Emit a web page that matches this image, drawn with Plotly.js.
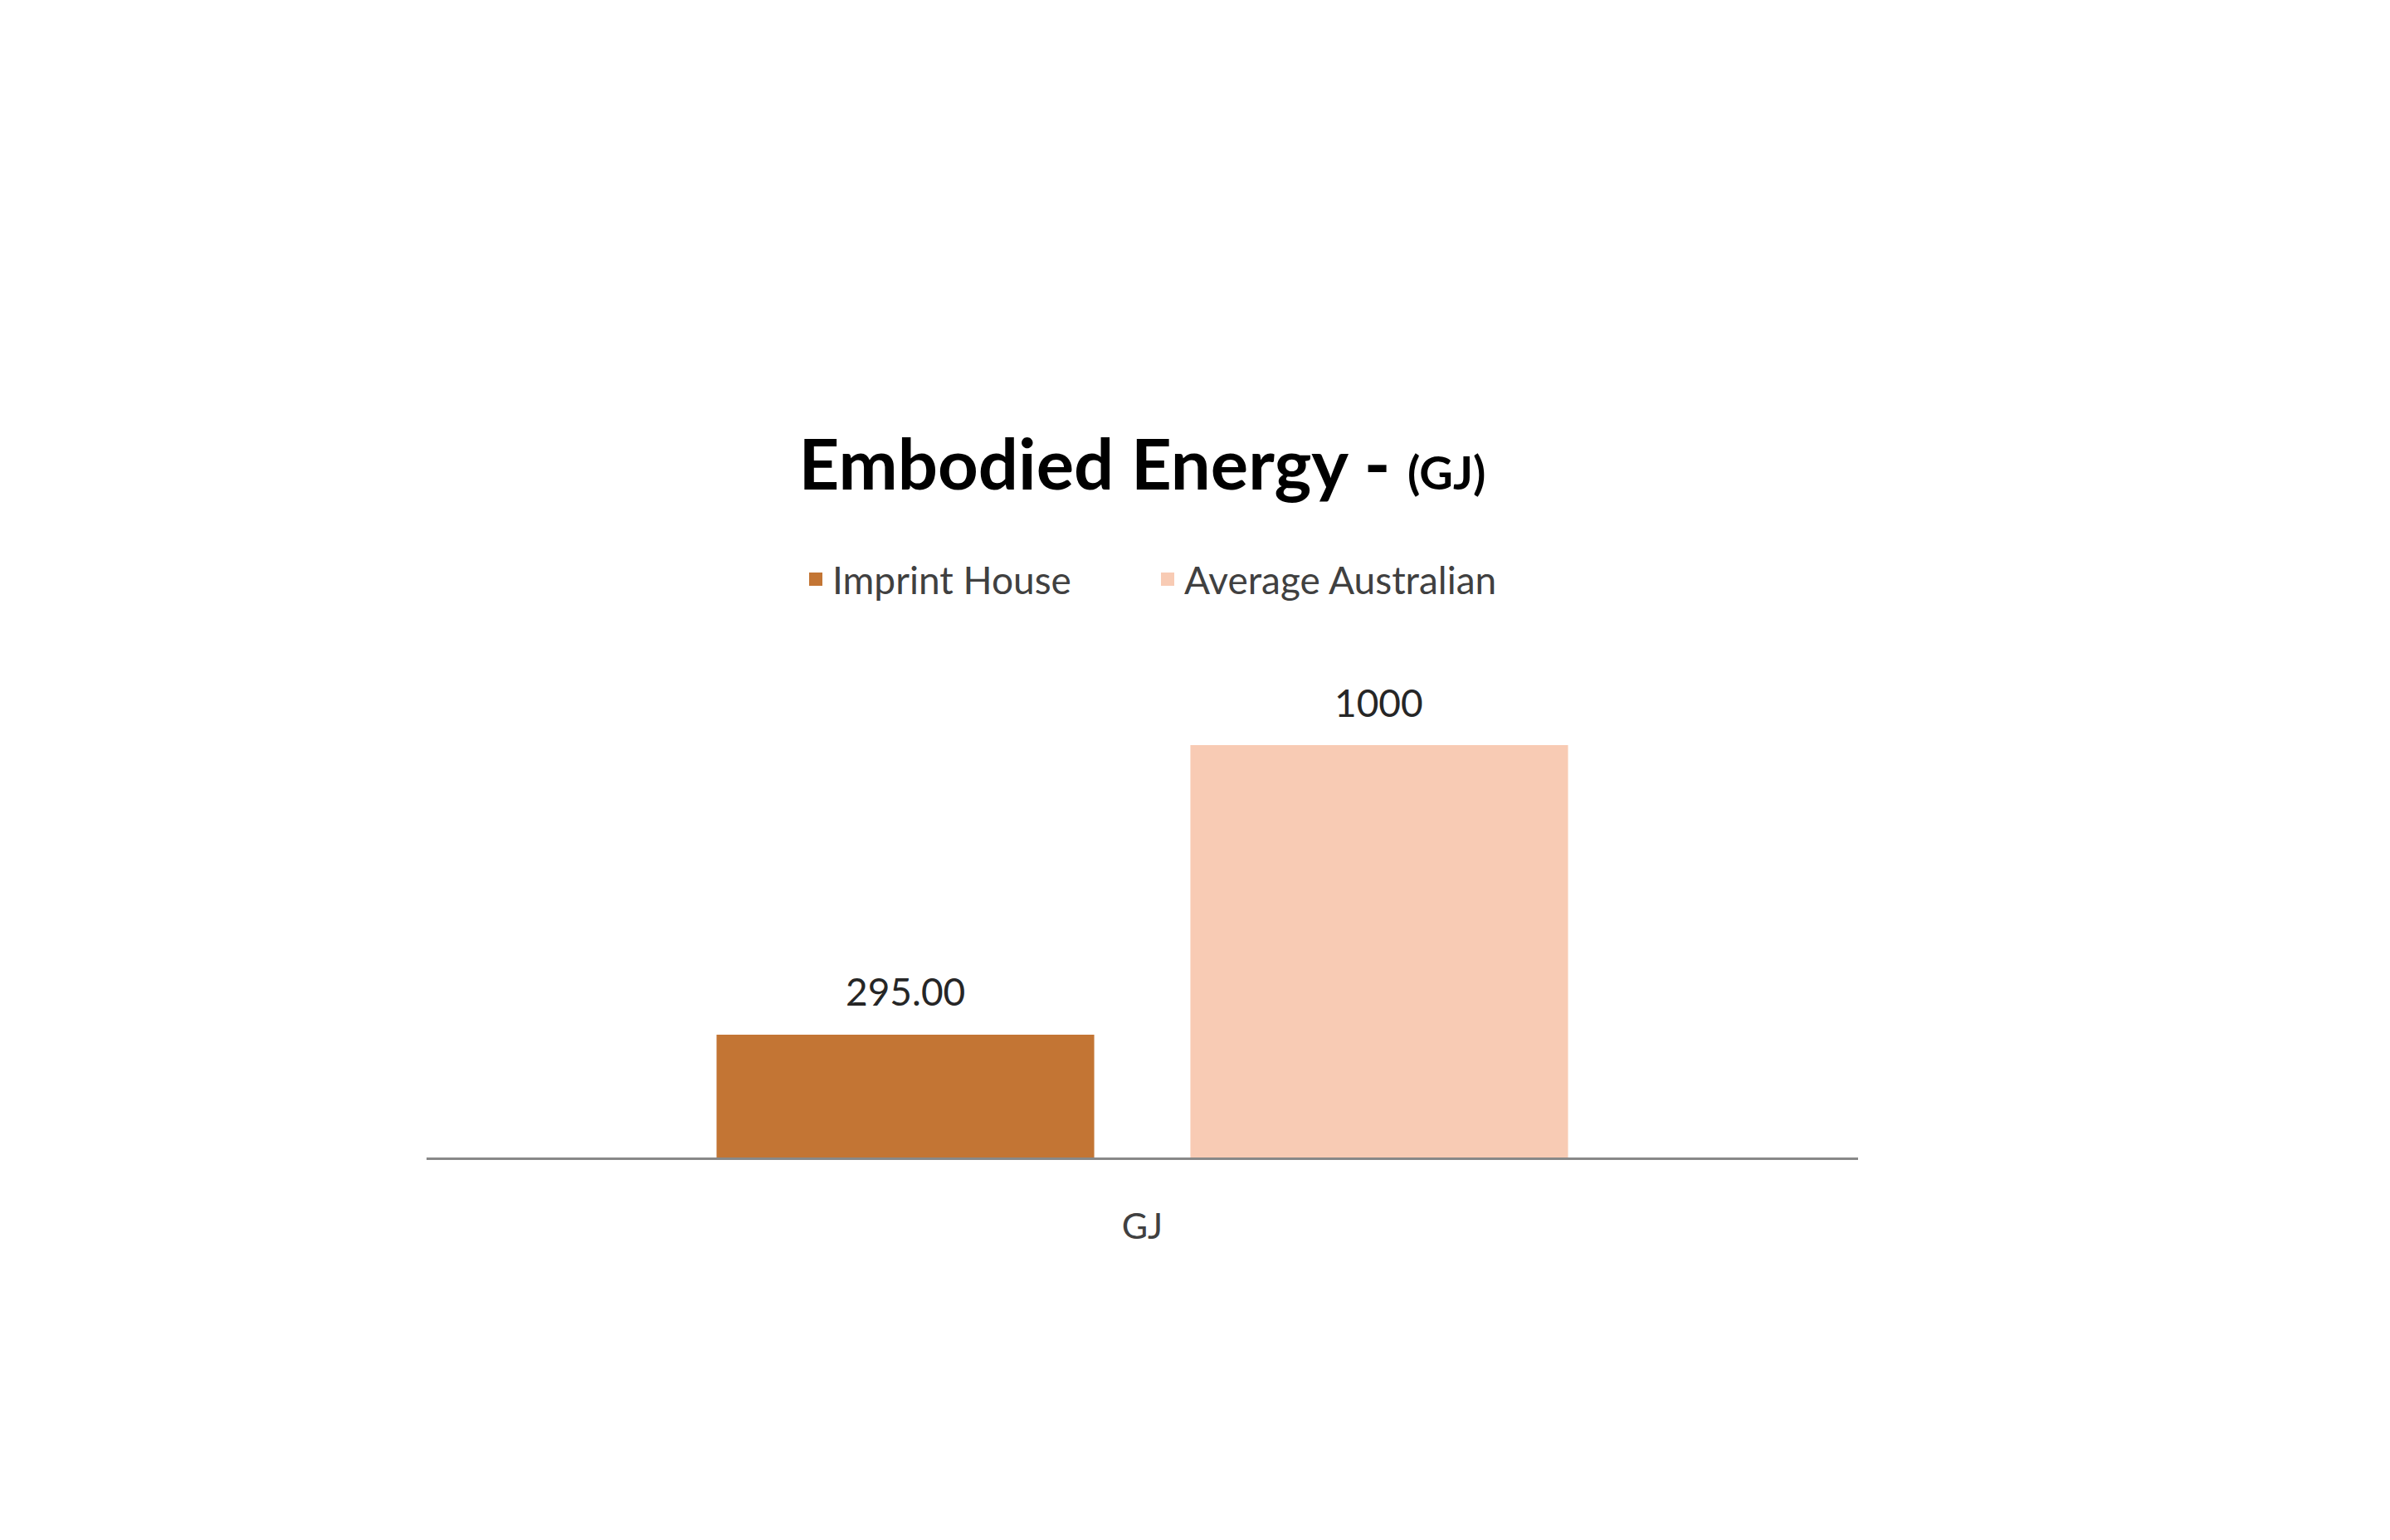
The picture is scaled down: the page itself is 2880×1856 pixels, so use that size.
<!DOCTYPE html>
<html>
<head>
<meta charset="utf-8">
<script src="https://cdn.plot.ly/plotly-3.0.1.min.js"></script>
<style>html,body{margin:0;padding:0;background:#fff;}#chart{width:2880px;height:1856px;}</style>
</head>
<body>
<div id="chart"></div>
<script>
// ---- data ----
const categories = ["GJ"];
const seriesNames = ["Imprint House", "Average Australian"];
const imprintHouse = [295];
const averageAustralian = [1000];
const valueLabels = [["295.00"], ["1000"]];
const seriesColors = ["#C37534", "#F8CBB4"];

const W = 2880, H = 1856;
const margin = {l: 514, r: 641, t: 801, b: 461, pad: 0};
const bargap = 0.338, bargroupgap = 0.21;
const FONT = "Lato, 'Open Sans', sans-serif";

const seriesValues = [imprintHouse, averageAustralian];
const traces = seriesValues.map((vals, i) => ({
  type: "bar",
  name: seriesNames[i],
  x: categories,
  y: vals,
  marker: {color: seriesColors[i], line: {width: 4, color: seriesColors[i]}},
  hoverinfo: "skip"
}));

const plotW = W - margin.l - margin.r;
const plotH = H - margin.t - margin.b;
const n = seriesValues.length;
const slot = (1 - bargap) * plotW / categories.length / n;
const annotations = [];
seriesValues.forEach((vals, i) => {
  vals.forEach((v, j) => {
    annotations.push({
      x: categories[j], y: v, xref: "x", yref: "y",
      text: valueLabels[i][j], showarrow: false,
      xshift: (i - (n - 1) / 2) * slot,
      yanchor: "middle", yshift: 54,
      font: {family: FONT, size: 46, color: "#262626"}
    });
  });
});

const layout = {
  width: W, height: H,
  margin: margin,
  paper_bgcolor: "#fff", plot_bgcolor: "#fff",
  barmode: "group", bargap: bargap, bargroupgap: bargroupgap,
  showlegend: true,
  title: {
    text: "<b>Embodied Energy - <span style='font-size:56px'>(GJ)</span></b>",
    font: {family: FONT, size: 85, color: "#000"},
    x: 0.5, xref: "paper", xanchor: "center",
    y: 1 - 560 / H, yref: "container", yanchor: "middle"
  },
  legend: {
    orientation: "h", x: (963 - margin.l) / plotW, xanchor: "left",
    y: 1 + (801 - 698) / plotH, yanchor: "middle",
    entrywidth: 379, entrywidthmode: "pixels",
    font: {family: FONT, size: 46, color: "#404040"},
    itemclick: false, itemdoubleclick: false
  },
  xaxis: {
    showline: true, linecolor: "#888888", linewidth: 3,
    showgrid: false, zeroline: false, ticks: "",
    ticklabelstandoff: 43,
    tickfont: {family: FONT, size: 43, color: "#404040"},
    fixedrange: true
  },
  yaxis: {
    range: [0, 1200], visible: false, showgrid: false, zeroline: false, fixedrange: true
  },
  annotations: annotations
};

Plotly.newPlot("chart", traces, layout, {displayModeBar: false, staticPlot: true});
</script>
</body>
</html>
